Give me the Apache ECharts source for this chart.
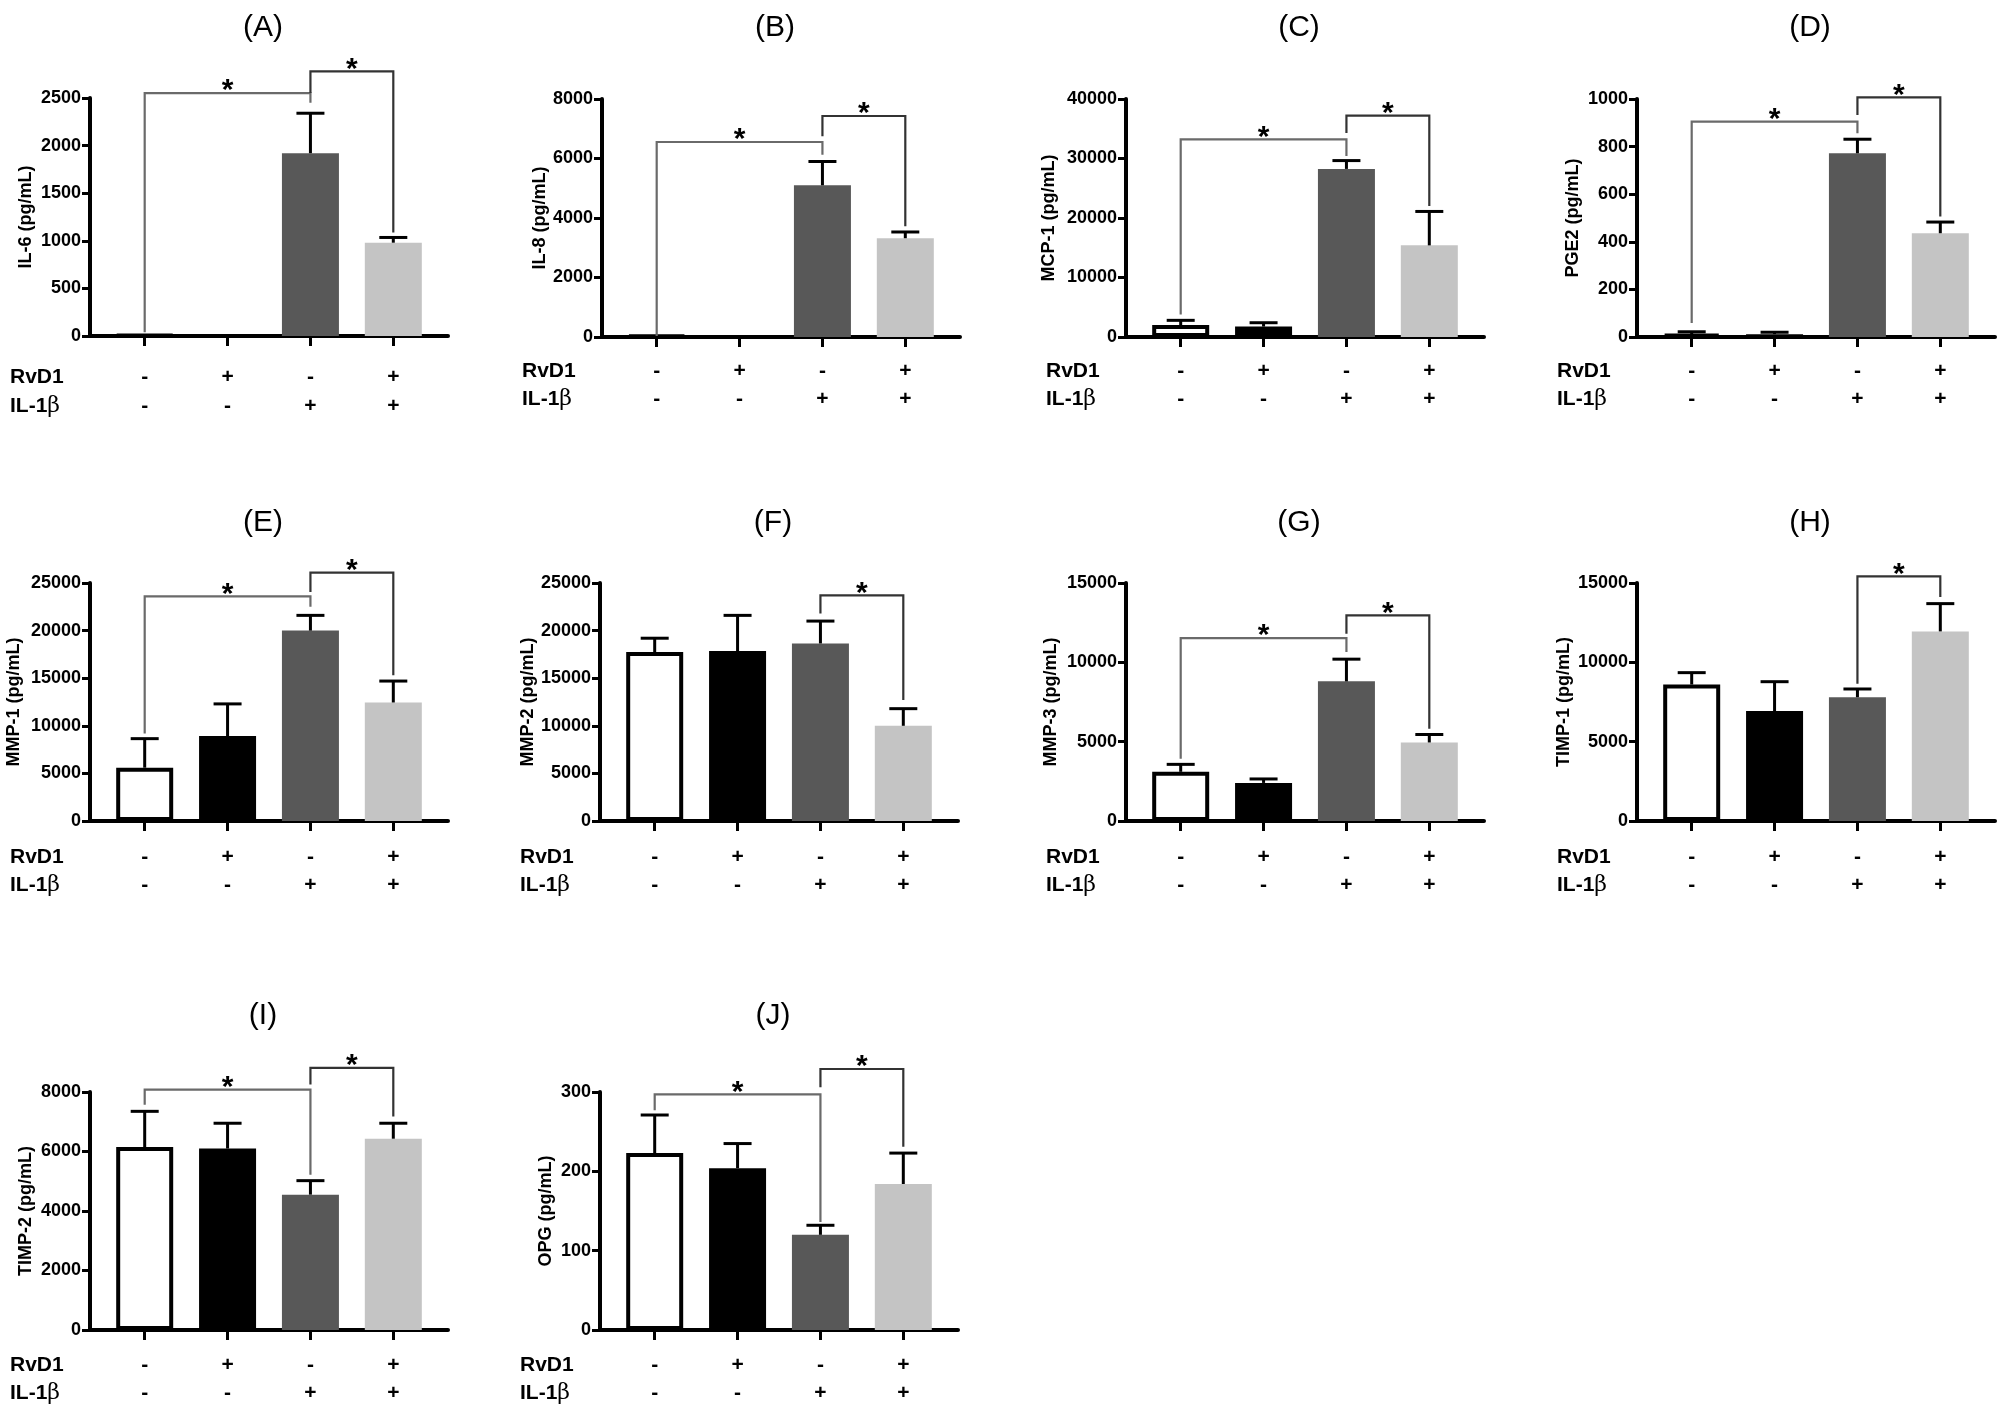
<!DOCTYPE html>
<html><head><meta charset="utf-8">
<script src="https://cdn.jsdelivr.net/npm/echarts@6/dist/echarts.min.js"></script>
<style>html,body{margin:0;padding:0;background:#fff}#c{width:2000px;height:1408px}</style>
</head><body><div id="c"></div>
<script>
// ---------- data ----------
const panelLetters = ['(A)','(B)','(C)','(D)','(E)','(F)','(G)','(H)','(I)','(J)'];
const yNames = ['IL-6 (pg/mL)','IL-8 (pg/mL)','MCP-1 (pg/mL)','PGE2 (pg/mL)','MMP-1 (pg/mL)',
                'MMP-2 (pg/mL)','MMP-3 (pg/mL)','TIMP-1 (pg/mL)','TIMP-2 (pg/mL)','OPG (pg/mL)'];
const yMax  = [2500, 8000, 40000, 1000, 25000, 25000, 15000, 15000, 8000, 300];
const yStep = [500, 2000, 10000, 200, 5000, 5000, 5000, 5000, 2000, 100];
const groups = [0, 1, 2, 3];
const rvd1Signs = ['-', '+', '-', '+'];
const il1bSigns = ['-', '-', '+', '+'];

const il6Mean   = [10, 10, 1920, 980];      const il6Err   = [0, 0, 420, 55];
const il8Mean   = [50, 50, 5100, 3320];     const il8Err   = [0, 0, 800, 210];
const mcp1Mean  = [2000, 1750, 28250, 15400]; const mcp1Err = [800, 650, 1400, 5700];
const pge2Mean  = [12, 12, 772, 436];       const pge2Err  = [10, 8, 59, 47];
const mmp1Mean  = [5600, 8930, 20000, 12450]; const mmp1Err = [3050, 3370, 1600, 2250];
const mmp2Mean  = [17750, 17850, 18650, 10000]; const mmp2Err = [1450, 3750, 2350, 1800];
const mmp3Mean  = [3100, 2400, 8800, 4950]; const mmp3Err  = [470, 250, 1400, 500];
const timp1Mean = [8600, 6930, 7800, 11950]; const timp1Err = [750, 1850, 520, 1750];
const timp2Mean = [6150, 6100, 4550, 6430]; const timp2Err = [1200, 850, 470, 520];
const opgMean   = [223, 204, 120, 184];     const opgErr   = [48, 31, 12, 39];

// significance brackets: [fromGroup, toGroup, topValue, leftLegEnd, rightLegEnd]
const il6Sig   = [[0,2,2552,40,2450],[2,3,2779,2552,1088]];
const il8Sig   = [[0,2,6555,30,6129],[2,3,7429,6745,3720]];
const mcp1Sig  = [[0,2,33200,3800,30400],[2,3,37200,34300,22000]];
const pge2Sig  = [[0,2,905,59,856],[2,3,1007,933,506]];
const mmp1Sig  = [[0,2,23600,9200,22500],[2,3,26100,24050,15300]];
const mmp2Sig  = [[2,3,23700,21800,12700]];
const mmp3Sig  = [[0,2,11530,3930,10650],[2,3,12960,11800,5820]];
const timp1Sig = [[2,3,15420,8650,14120]];
const timp2Sig = [[0,2,8080,7570,5220],[2,3,8810,8250,7180]];
const opgSig   = [[0,2,297,277,136],[2,3,329,306,231]];

const means = [il6Mean, il8Mean, mcp1Mean, pge2Mean, mmp1Mean, mmp2Mean, mmp3Mean, timp1Mean, timp2Mean, opgMean];
const errs  = [il6Err, il8Err, mcp1Err, pge2Err, mmp1Err, mmp2Err, mmp3Err, timp1Err, timp2Err, opgErr];
const sigs  = [il6Sig, il8Sig, mcp1Sig, pge2Sig, mmp1Sig, mmp2Sig, mmp3Sig, timp1Sig, timp2Sig, opgSig];

// ---------- layout / style ----------
const gridLeft = [90, 602, 1126, 1637, 90, 600, 1126, 1637, 90, 600];
const gridTop  = [98, 99, 99, 99, 583, 583, 583, 583, 1092, 1092];
const gridW = 358, gridH = 238;
const titleY = [28, 28, 28, 28, 523, 523, 523, 523, 1016, 1016];
const nameGap = [55, 52, 68, 55, 67, 62, 66, 64, 55, 45];
const signOff = [41, 34, 34, 34, 36, 36, 36, 36, 35, 35];
const fills = ['#ffffff', '#000000', '#585858', '#c4c4c4'];
const FF = "'Liberation Sans', Arial, sans-serif";

const option = {
  backgroundColor: '#fff', animation: false,
  grid: [], xAxis: [], yAxis: [], series: [], graphic: []
};

panelLetters.forEach((letter, i) => {
  option.grid.push({left: gridLeft[i], top: gridTop[i], width: gridW, height: gridH});
  const lh = signOff[i] === 41 ? 29 : 28;
  option.xAxis.push({
    type: 'value', gridIndex: i, min: -0.66, max: 3.66,
    splitLine: {show: false},
    axisLine: {show: true, onZero: false, lineStyle: {color: '#000', width: 4}},
    axisTick: {show: true, customValues: groups, length: 10, lineStyle: {color: '#000', width: 3}},
    axisLabel: {show: true, customValues: groups, margin: signOff[i] - lh / 2,
      formatter: v => rvd1Signs[Math.round(v)] + '\n' + il1bSigns[Math.round(v)],
      fontFamily: FF, fontWeight: 'bold', fontSize: 21, lineHeight: lh, color: '#000'}
  });
  option.yAxis.push({
    type: 'value', gridIndex: i, min: 0, max: yMax[i], interval: yStep[i],
    name: yNames[i], nameLocation: 'middle', nameGap: nameGap[i],
    nameTextStyle: {fontFamily: FF, fontWeight: 'bold', fontSize: 18, color: '#000'},
    splitLine: {show: false},
    axisLine: {show: true, onZero: false, lineStyle: {color: '#000', width: 4}},
    axisTick: {show: true, inside: false, length: 8, lineStyle: {color: '#000', width: 3}},
    axisLabel: {margin: 9, fontFamily: FF, fontWeight: 'bold', fontSize: 18, color: '#000',
      formatter: v => String(v)}
  });
  option.series.push({
    type: 'bar', xAxisIndex: i, yAxisIndex: i, barWidth: 57, z: 2,
    data: means[i].map((v, k) => ({
      value: [groups[k], v],
      itemStyle: k === 0 ? {color: '#fff', borderColor: '#000', borderWidth: 4} : {color: fills[k]}
    }))
  });
  option.series.push({
    type: 'custom', xAxisIndex: i, yAxisIndex: i, clip: false, z: 3,
    data: means[i].map((v, k) => [groups[k], v, v + errs[i][k]]),
    renderItem: (params, api) => {
      const x = api.value(0), lo = api.value(1), hi = api.value(2);
      if (hi <= lo) return null;
      const a = api.coord([x, lo]), b = api.coord([x, hi]);
      return {type: 'group', children: [
        {type: 'line', shape: {x1: a[0], y1: a[1], x2: b[0], y2: b[1]}, style: {stroke: '#000', lineWidth: 3}},
        {type: 'line', shape: {x1: b[0] - 14, y1: b[1], x2: b[0] + 14, y2: b[1]}, style: {stroke: '#000', lineWidth: 3}}
      ]};
    }
  });
  option.series.push({
    type: 'custom', xAxisIndex: i, yAxisIndex: i, clip: false, z: 4,
    encode: {x: [0, 1], y: [2, 3, 4]},
    data: sigs[i],
    renderItem: (params, api) => {
      const g1 = api.value(0), g2 = api.value(1), top = api.value(2), yl = api.value(3), yr = api.value(4);
      const p1 = api.coord([g1, yl]), p2 = api.coord([g1, top]), p3 = api.coord([g2, top]), p4 = api.coord([g2, yr]);
      const col = (g2 - g1) > 1 ? '#6a6a6a' : '#333';
      return {type: 'group', children: [
        {type: 'polyline', shape: {points: [p1, p2, p3, p4]}, style: {stroke: col, lineWidth: 2.2, fill: null}},
        {type: 'text', x: (p2[0] + p3[0]) / 2, y: p2[1] - 2,
         style: {text: '*', font: "bold 30px 'Liberation Sans', Arial", fill: '#000', align: 'center', verticalAlign: 'middle'}}
      ]};
    }
  });
  option.graphic.push({type: 'text', x: gridLeft[i] + 173, y: titleY[i],
    style: {text: letter, font: "30px 'Liberation Sans', Arial", fill: '#000', align: 'center', verticalAlign: 'middle'}});
  const zeroY = gridTop[i] + gridH;
  option.graphic.push({type: 'text', x: gridLeft[i] - 80, y: zeroY + signOff[i],
    style: {text: 'RvD1', font: "bold 21px 'Liberation Sans', Arial", fill: '#000', align: 'left', verticalAlign: 'middle'}});
  option.graphic.push({type: 'text', x: gridLeft[i] - 80, y: zeroY + signOff[i] + lh,
    style: {text: '{a|IL-1}{b|β}', fill: '#000', align: 'left', verticalAlign: 'middle',
      rich: {a: {font: "bold 21px 'Liberation Sans', Arial", fill: '#000'},
             b: {font: "22px 'DejaVu Serif', serif", fill: '#000'}}}});
});

const chart = echarts.init(document.getElementById('c'), null, {renderer: 'canvas'});
chart.setOption(option);
</script>
</body></html>
